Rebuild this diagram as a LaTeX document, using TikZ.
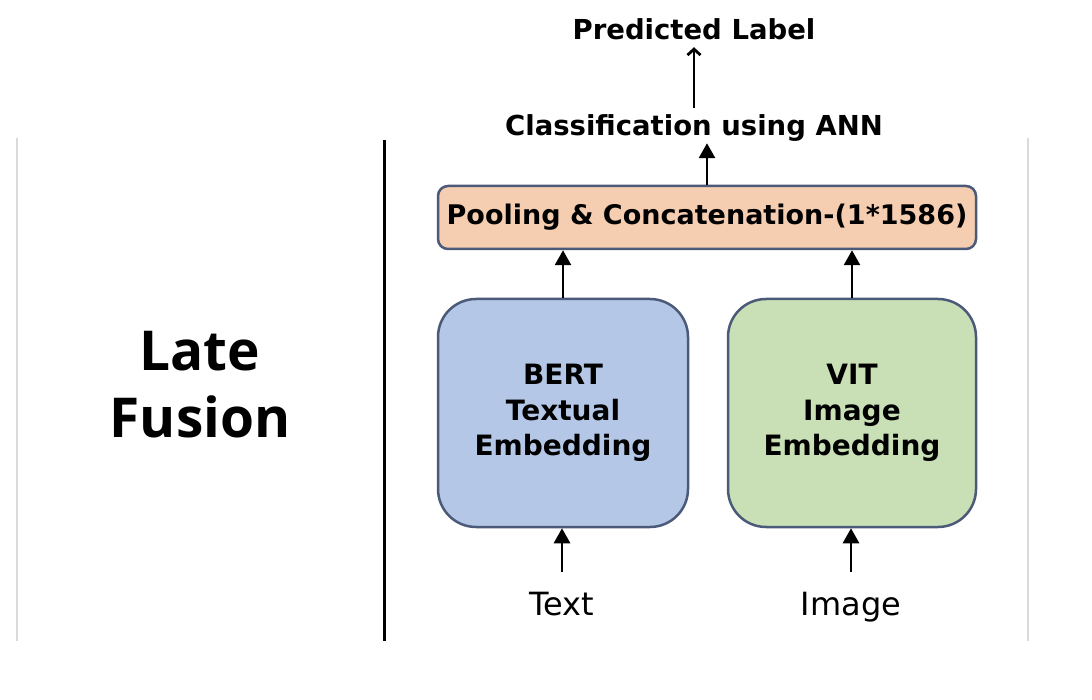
\documentclass[tikz,border=0pt]{standalone}
\usepackage{fontspec}
\setmainfont{DejaVu Sans}
\newfontfamily\titlefont{Open Sans}
\usetikzlibrary{arrows.meta}
\definecolor{boxline}{HTML}{4B5A78}
\definecolor{peachfill}{HTML}{F5CDB1}
\definecolor{bluefill}{HTML}{B4C7E7}
\definecolor{greenfill}{HTML}{C9E0B7}
\definecolor{sepgray}{HTML}{DADADA}
\begin{document}
\begin{tikzpicture}[x=1pt,y=-1pt,
  boxstyle/.style={draw=boxline, line width=2.5pt, align=center, inner sep=0pt},
  boldlbl/.style={font=\bfseries\fontsize{27.5}{33}\selectfont, inner sep=0pt, text height=21pt, text depth=7pt},
  plainlbl/.style={font=\fontsize{32}{38}\selectfont, inner sep=0pt, text height=24pt, text depth=7pt},
  arr/.style={line width=2.8pt, -{Triangle[length=15pt,width=16pt]}},
  thinarr/.style={line width=2.8pt, -{Straight Barb[length=6pt,width=13pt]}}]
\useasboundingbox (0,0) rectangle (1092,700);
\fill[white] (0,0) rectangle (1092,700);
\draw[sepgray, line width=1.5pt] (17,138) -- (17,641);
\draw[sepgray, line width=1.5pt] (1028,138) -- (1028,641);
\draw[black, line width=3pt] (384,140) -- (384,641);

\node[font=\titlefont\bfseries\fontsize{55}{67}\selectfont, align=center] (late) at (200,385) {Late\\Fusion};

\node[boxstyle, fill=peachfill, rounded corners=10pt, minimum width=538pt, minimum height=63pt,
      font=\bfseries\fontsize{27}{32}\selectfont] (pool) at (707,217.5) {Pooling \& Concatenation-(1*1586)};
\node[boxstyle, fill=bluefill, rounded corners=38pt, minimum width=250pt, minimum height=228pt,
      font=\bfseries\fontsize{28}{35.5}\selectfont] (bert) at (563,413) {BERT\\Textual\\Embedding};
\node[boxstyle, fill=greenfill, rounded corners=38pt, minimum width=248pt, minimum height=228pt,
      font=\bfseries\fontsize{28}{35.5}\selectfont] (vit) at (852,413) {VIT\\Image\\Embedding};

\node[plainlbl, anchor=base] (txt) at (562,615) {Text};
\node[plainlbl, anchor=base] (img) at (851,615) {Image};
\node[boldlbl, anchor=base] (cls) at (694,136) {Classification using ANN};
\node[boldlbl, anchor=base] (pred) at (694,40) {Predicted Label};

\draw[arr] ([yshift=19pt]txt.north) -- (txt.north |- bert.south);
\draw[arr] ([yshift=19pt]img.north) -- (img.north |- vit.south);
\draw[arr] (bert.north) -- (bert.north |- pool.south);
\draw[arr] (vit.north) -- (vit.north |- pool.south);
\draw[arr] (pool.north) -- (pool.north |- cls.south);
\draw[thinarr] ([yshift=7pt]cls.north) -- (pred.south);
\end{tikzpicture}
\end{document}
